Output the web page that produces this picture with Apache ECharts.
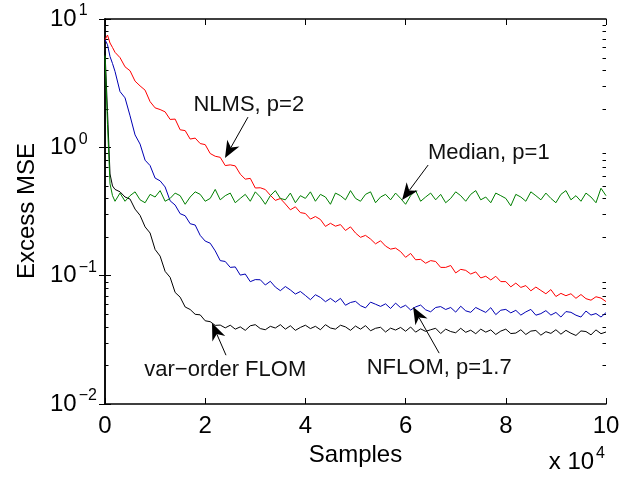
<!DOCTYPE html>
<html><head><meta charset="utf-8">
<script src="https://cdn.jsdelivr.net/npm/echarts@6/dist/echarts.min.js"></script>
<style>html,body{margin:0;padding:0;background:#fff}#c{width:642px;height:479px}</style>
</head><body><div id="c"></div>
<script>
// Samples in units of 10^4
const samples = [0,0.05,0.1,0.15,0.2,
 0.3,0.4,0.5,0.6,0.7,0.8,0.9,1.0,1.1,1.2,
 1.3,1.4,1.5,1.6,1.7,1.8,1.9,2.0,2.1,2.2,
 2.3,2.4,2.5,2.6,2.7,2.8,2.9,3.0,3.1,3.2,
 3.3,3.4,3.5,3.6,3.7,3.8,3.9,4.0,4.1,4.2,
 4.3,4.4,4.5,4.6,4.7,4.8,4.9,5.0,5.1,5.2,
 5.3,5.4,5.5,5.6,5.7,5.8,5.9,6.0,6.1,6.2,
 6.3,6.4,6.5,6.6,6.7,6.8,6.9,7.0,7.1,7.2,
 7.3,7.4,7.5,7.6,7.7,7.8,7.9,8.0,8.1,8.2,
 8.3,8.4,8.5,8.6,8.7,8.8,8.9,9.0,9.1,9.2,
 9.3,9.4,9.5,9.6,9.7,9.8,9.9,10.0];

const nlms = [6.9,7.5,6.5,6.0,5.5,
 5.0,4.24,3.95,3.28,3.01,2.79,2.27,2.03,1.97,1.89,
 1.65,1.66,1.37,1.35,1.16,1.18,1.07,1.05,0.895,0.852,
 0.836,0.721,0.73,0.717,0.618,0.565,0.573,0.482,0.484,0.469,
 0.423,0.386,0.399,0.362,0.326,0.344,0.31,0.305,0.276,0.289,
 0.274,0.242,0.256,0.243,0.25,0.225,0.24,0.215,0.199,0.206,
 0.193,0.177,0.187,0.17,0.161,0.164,0.154,0.139,0.149,0.133,
 0.134,0.125,0.131,0.129,0.116,0.116,0.12,0.105,0.112,0.11,
 0.103,0.107,0.096,0.099,0.0926,0.0989,0.0899,0.0899,0.0818,0.0875,
 0.081,0.0837,0.0762,0.0815,0.0767,0.0723,0.0779,0.0688,0.0728,0.0698,
 0.0723,0.0666,0.0713,0.0662,0.0644,0.0685,0.0669,0.0628];

const median = [5.2,1.5,0.52,0.42,0.38,
 0.44,0.38,0.42,0.45,0.39,0.37,0.43,0.41,0.46,0.38,
 0.40,0.44,0.42,0.36,0.41,0.45,0.43,0.38,0.40,0.47,
 0.39,0.42,0.44,0.37,0.40,0.43,0.38,0.45,0.41,0.36,
 0.42,0.46,0.40,0.39,0.44,0.37,0.42,0.40,0.45,0.38,
 0.43,0.41,0.36,0.44,0.42,0.39,0.46,0.40,0.38,0.43,
 0.45,0.37,0.41,0.43,0.39,0.44,0.40,0.36,0.42,0.46,
 0.38,0.41,0.44,0.39,0.43,0.37,0.40,0.45,0.42,0.38,
 0.43,0.46,0.39,0.41,0.37,0.44,0.42,0.40,0.35,0.43,
 0.41,0.38,0.45,0.42,0.39,0.44,0.40,0.37,0.43,0.46,
 0.39,0.42,0.38,0.44,0.41,0.37,0.48,0.42];

const nflom = [6.9,6.3,5.1,4.5,3.9,
 2.72,2.43,1.76,1.25,1.06,0.794,0.721,0.576,0.548,0.491,
 0.383,0.355,0.304,0.293,0.254,0.248,0.206,0.186,0.179,0.156,
 0.131,0.129,0.116,0.117,0.101,0.103,0.0898,0.0932,0.0929,0.0846,
 0.0904,0.0815,0.0764,0.0823,0.0774,0.0719,0.0753,0.0701,0.065,0.071,
 0.0677,0.0627,0.0665,0.0622,0.0665,0.0588,0.0618,0.0631,0.0584,0.0561,
 0.0622,0.0599,0.0576,0.0603,0.0555,0.0611,0.0563,0.0588,0.054,0.0571,
 0.059,0.0542,0.0523,0.0565,0.0574,0.0545,0.0565,0.052,0.0578,0.0532,
 0.0518,0.0565,0.054,0.0517,0.0563,0.0497,0.0538,0.0546,0.0513,0.0537,
 0.0493,0.0522,0.0546,0.0492,0.0506,0.0534,0.0493,0.0517,0.0476,0.0525,
 0.0518,0.0492,0.0476,0.053,0.0493,0.0507,0.0476,0.0515];

const varFlom = [5.6,1.9,0.62,0.5,0.47,
 0.45,0.41,0.395,0.33,0.295,0.24,0.215,0.16,0.142,0.108,
 0.097,0.074,0.068,0.057,0.0545,0.05,0.0495,0.0445,0.0438,0.041,
 0.0412,0.0392,0.0411,0.0383,0.0399,0.0375,0.0407,0.0415,0.0387,0.0379,
 0.0403,0.0391,0.0415,0.0383,0.0407,0.0375,0.0395,0.0411,0.0387,0.0403,
 0.0379,0.0415,0.0391,0.0383,0.0411,0.0399,0.0375,0.0405,0.0383,0.0408,
 0.0372,0.0389,0.0396,0.0364,0.039,0.0377,0.0395,0.0369,0.0398,0.0363,
 0.0385,0.0368,0.0379,0.0389,0.0354,0.0383,0.0367,0.0359,0.0389,0.0362,
 0.0376,0.0353,0.0383,0.0363,0.0378,0.0348,0.037,0.0383,0.0354,0.0357,
 0.0379,0.0348,0.037,0.0374,0.0344,0.0366,0.0355,0.0379,0.035,0.0375,
 0.0356,0.0342,0.0371,0.0367,0.0346,0.0378,0.0353,0.0364];

const xRange = [0, 10];
const xStep = 2;
const yRange = [0.01, 10];

// annotation text and arrows, in data coordinates (x in 10^4 samples, y in MSE)
const annotations = [
  {text: 'NLMS, p=2',      at: [2.87, 2.14],  from: [2.854, 1.72],  to: [2.395, 0.826]},
  {text: 'Median, p=1',    at: [7.66, 0.903], from: [6.45, 0.728],  to: [5.93, 0.388]},
  {text: 'NFLOM, p=1.7',   at: [6.67, 0.0192], from: [6.67, 0.0249], to: [6.15, 0.0569]},
  {text: 'var\u2212order FLOM', at: [2.4, 0.0185], from: [2.415, 0.024], to: [2.136, 0.0427]}
];

const FONT = '"Liberation Sans", Arial, Helvetica, sans-serif';
const chart = echarts.init(document.getElementById('c'), null, {renderer: 'canvas'});

function pair(ys) { return samples.map((x, i) => [x, ys[i]]); }

const axisLine = {show: true, lineStyle: {color: '#000', width: 1.5}};
const tick = {show: true, inside: true, length: 6, lineStyle: {color: '#000', width: 1}};

const option = {
  animation: false,
  backgroundColor: '#fff',
  grid: {left: 105, right: 36, top: 19, bottom: 75, containLabel: false},
  xAxis: [
    {type: 'value', min: xRange[0], max: xRange[1], interval: xStep, position: 'bottom',
     axisLine, axisTick: tick, splitLine: {show: false},
     axisLabel: {fontSize: 24, color: '#000', fontFamily: FONT, margin: 10},
     name: 'Samples', nameLocation: 'middle', nameGap: 38,
     nameTextStyle: {fontSize: 24, color: '#000', fontFamily: FONT}},
    {type: 'value', min: xRange[0], max: xRange[1], interval: xStep, position: 'top',
     axisLine, axisTick: tick, axisLabel: {show: false}, splitLine: {show: false}}
  ],
  yAxis: [
    {type: 'log', logBase: 10, min: yRange[0], max: yRange[1], position: 'left',
     axisLine, axisTick: tick, splitLine: {show: false},
     axisLabel: {
       align: 'left', margin: 55, color: '#000', fontFamily: FONT,
       formatter: v => {
         const e = Math.round(Math.log10(v));
         return '{b|10}{s|' + (e < 0 ? '\u2212' + (-e) : e) + '}';
       },
       rich: {
         b: {fontSize: 24, lineHeight: 32, fontFamily: FONT, color: '#000'},
         s: {fontSize: 16, lineHeight: 16, verticalAlign: 'top', fontFamily: FONT, color: '#000', padding: [0, 0, 0, 2]}
       }
     }},
    {type: 'log', logBase: 10, min: yRange[0], max: yRange[1], position: 'right',
     axisLine, axisTick: tick, axisLabel: {show: false}, splitLine: {show: false}}
  ],
  series: [
    {name: 'var-order FLOM', type: 'line', data: pair(varFlom), showSymbol: false, symbol: 'none',
     lineStyle: {color: '#000000', width: 1}, itemStyle: {color: '#000'}},
    {name: 'NFLOM, p=1.7', type: 'line', data: pair(nflom), showSymbol: false, symbol: 'none',
     lineStyle: {color: '#0000b4', width: 1}, itemStyle: {color: '#0000b4'}},
    {name: 'NLMS, p=2', type: 'line', data: pair(nlms), showSymbol: false, symbol: 'none',
     lineStyle: {color: '#ff0000', width: 1}, itemStyle: {color: '#ff0000'}},
    {name: 'Median, p=1', type: 'line', data: pair(median), showSymbol: false, symbol: 'none',
     lineStyle: {color: '#007f00', width: 1}, itemStyle: {color: '#007f00'}}
  ]
};
chart.setOption(option);

// Build extra graphics from the library's scales
const g = [];
const xl = chart.convertToPixel({xAxisIndex: 0}, xRange[0]);
const xr = chart.convertToPixel({xAxisIndex: 0}, xRange[1]);
// minor log ticks (2..9 of each decade) on left and right
for (let d = yRange[0]; d < yRange[1] * 0.99; d *= 10) {
  for (let k = 2; k <= 9; k++) {
    const py = Math.round(chart.convertToPixel({yAxisIndex: 0}, d * k)) + 0.5;
    g.push({type: 'line', shape: {x1: xl, y1: py, x2: xl + 3.5, y2: py}, style: {stroke: '#000', lineWidth: 1}, silent: true});
    g.push({type: 'line', shape: {x1: xr - 3.5, y1: py, x2: xr, y2: py}, style: {stroke: '#000', lineWidth: 1}, silent: true});
  }
}
// annotations
annotations.forEach(a => {
  const t = chart.convertToPixel({xAxisIndex: 0, yAxisIndex: 0}, a.at);
  const s = chart.convertToPixel({xAxisIndex: 0, yAxisIndex: 0}, a.from);
  const e = chart.convertToPixel({xAxisIndex: 0, yAxisIndex: 0}, a.to);
  const dx = e[0] - s[0], dy = e[1] - s[1];
  const len = Math.hypot(dx, dy);
  const ux = dx / len, uy = dy / len, nx = -uy, ny = ux;
  const L = 17, W = 7, N = 5;
  const bx = e[0] - L * ux, by = e[1] - L * uy;
  const notch = [e[0] - (L - N) * ux, e[1] - (L - N) * uy];
  g.push({type: 'line', shape: {x1: s[0], y1: s[1], x2: notch[0], y2: notch[1]}, style: {stroke: '#000', lineWidth: 1}, silent: true, z: 100});
  g.push({type: 'polygon', shape: {points: [[e[0], e[1]], [bx + W * nx, by + W * ny], notch, [bx - W * nx, by - W * ny]]},
          style: {fill: '#000'}, silent: true, z: 100});
  g.push({type: 'text', x: t[0], y: t[1], style: {text: a.text, fontSize: 22, fontFamily: FONT, fill: '#111',
          align: 'center', verticalAlign: 'middle'}, silent: true, z: 100});
});
// y-axis title
g.push({type: 'text', x: 27, y: 211, rotation: Math.PI / 2,
        style: {text: 'Excess MSE', fontSize: 24, fontFamily: FONT, fill: '#000', align: 'center', verticalAlign: 'middle'}, silent: true});
// exponent note under the x axis
g.push({type: 'text', x: xr - 1, y: 462,
        style: {text: '{a|x 10}{s|4}', align: 'right', verticalAlign: 'middle',
          rich: {a: {fontSize: 24, lineHeight: 32, fontFamily: FONT, fill: '#000', color: '#000'},
                 s: {fontSize: 16, lineHeight: 16, verticalAlign: 'top', fontFamily: FONT, color: '#000', padding: [0, 0, 0, 2]}}},
        silent: true});
chart.setOption({graphic: g});
</script>
</body></html>
